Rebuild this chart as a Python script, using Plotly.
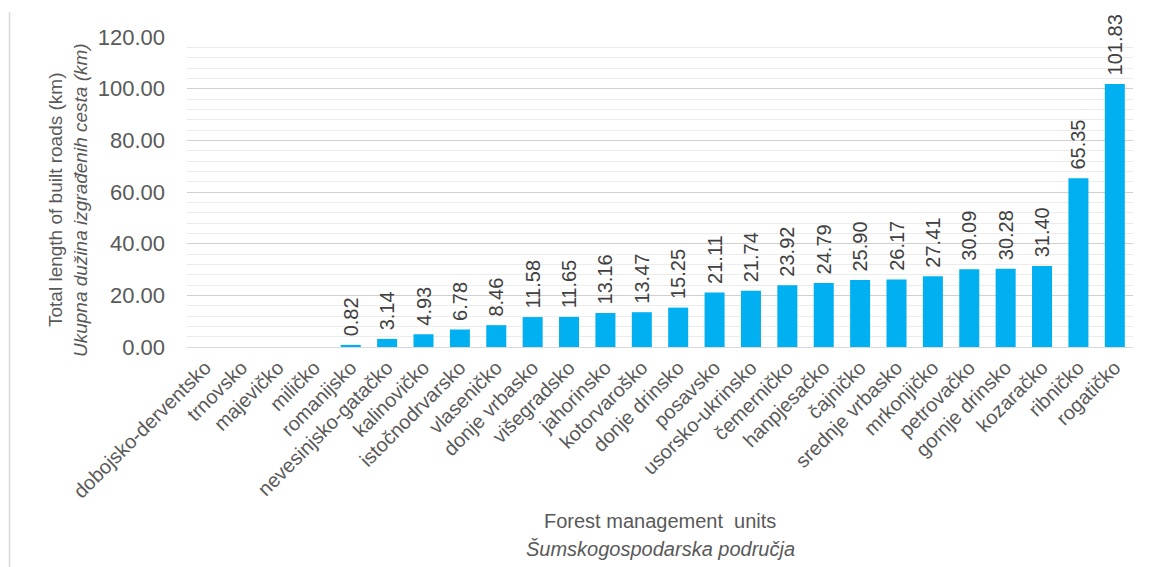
import plotly.graph_objects as go

units = ["dobojsko-derventsko", "trnovsko", "majevičko", "miličko", "romanijsko",
         "nevesinjsko-gatačko", "kalinovičko", "istočnodrvarsko", "vlaseničko",
         "donje vrbasko", "višegradsko", "jahorinsko", "kotorvaroško", "donje drinsko",
         "posavsko", "usorsko-ukrinsko", "čemerničko", "hanpjesačko", "čajničko",
         "srednje vrbasko", "mrkonjičko", "petrovačko", "gornje drinsko", "kozaračko",
         "ribničko", "rogatičko"]
road_km = [0, 0, 0, 0, 0.82, 3.14, 4.93, 6.78, 8.46, 11.58, 11.65, 13.16, 13.47,
           15.25, 21.11, 21.74, 23.92, 24.79, 25.90, 26.17, 27.41, 30.09, 30.28,
           31.40, 65.35, 101.83]
y_ticks = [0, 20, 40, 60, 80, 100, 120]

labels = ["\u00a0" + f"{v:.2f}" if v > 0 else "" for v in road_km]
FONT = "Liberation Sans"
GRAY = "#595959"

# page is offset by 8px body margin
L, T, R, B = 179, 29, 1125, 339
W, H = R - L, B - T

fig = go.Figure(go.Bar(
    x=units, y=road_km, text=labels, textposition="outside", textangle=-90,
    cliponaxis=False, constraintext="none",
    textfont=dict(family=FONT, size=20, color="#404040"),
    marker=dict(color="#00B0F0", line=dict(width=0)),
))

fig.update_layout(
    width=1151, height=567,
    margin=dict(l=L, r=1151 - R, t=T, b=567 - B),
    paper_bgcolor="white", plot_bgcolor="white",
    bargap=0.45, showlegend=False,
    font=dict(family=FONT, color=GRAY),
    xaxis=dict(tickangle=-45, tickfont=dict(size=20, color=GRAY, family=FONT),
               showline=True, linecolor="#d9d9d9", linewidth=1, ticks="",
               automargin=False),
    yaxis=dict(range=[0, 120], tickvals=y_ticks,
               ticktext=[f"{t:.2f}" for t in y_ticks],
               tickfont=dict(size=22, color=GRAY, family=FONT),
               showgrid=True, gridcolor="#d0d0d0", gridwidth=1,
               minor=dict(dtick=4, showgrid=True, gridcolor="#ececec", gridwidth=1),
               zeroline=False, ticks="", showline=False, automargin=False,
               ticklabelstandoff=21),
    annotations=[
        dict(text="Total length of built roads (km)", textangle=-90,
             xref="paper", yref="paper", x=(47 - L) / W, y=(B - 192) / H,
             xanchor="center", yanchor="middle", showarrow=False,
             font=dict(size=19, color=GRAY, family=FONT)),
        dict(text="<i>Ukupna dužina izgrađenih cesta (km)</i>", textangle=-90,
             xref="paper", yref="paper", x=(72 - L) / W, y=(B - 192) / H,
             xanchor="center", yanchor="middle", showarrow=False,
             font=dict(size=19, color=GRAY, family=FONT)),
        dict(text="Forest management  units", xref="paper", yref="paper",
             x=0.5, y=(B - 513) / H, xanchor="center", yanchor="middle",
             showarrow=False, font=dict(size=20, color=GRAY, family=FONT)),
        dict(text="<i>Šumskogospodarska područja</i>", xref="paper", yref="paper",
             x=0.5, y=(B - 541) / H, xanchor="center", yanchor="middle",
             showarrow=False, font=dict(size=20, color=GRAY, family=FONT)),
    ],
    shapes=[dict(type="line", xref="paper", yref="paper",
                 x0=(1.5 - L) / W, x1=(1.5 - L) / W,
                 y0=(B - 4) / H, y1=(B - 567) / H,
                 line=dict(color="#d9d9d9", width=1.5))],
)

fig.write_html("out.html")
